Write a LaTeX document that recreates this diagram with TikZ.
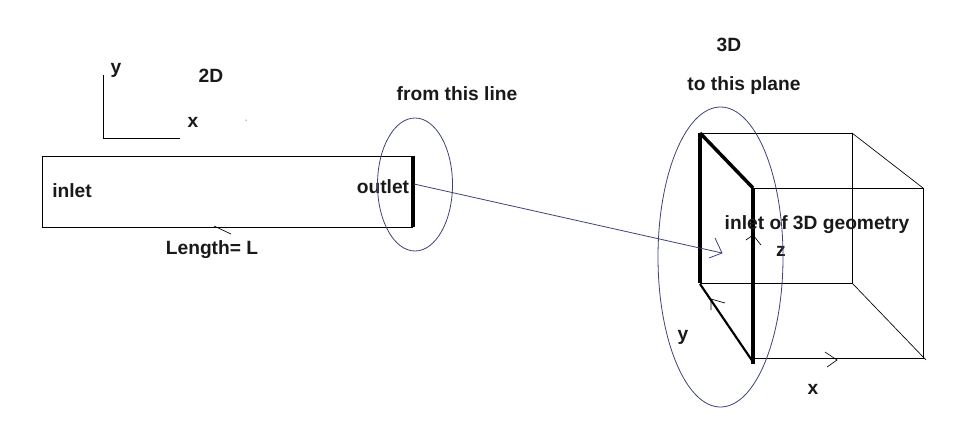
\documentclass[tikz,border=0pt]{standalone}
\usepackage{fontspec}
\setmainfont{Liberation Sans}
\definecolor{penblue}{RGB}{62,66,120}
\tikzset{
    lbl/.style={font=\fontsize{14.4}{16}\selectfont\bfseries, text=black!90, inner sep=0pt},
    edge3d/.style={draw=black, line width=0.6pt},
    heavy/.style={draw=black, line width=2.6pt},
    ring/.style={draw=penblue, line width=0.6pt},
    tick/.style={draw=black, line width=0.5pt}
}
\begin{document}
\begin{tikzpicture}[x=0.75pt,y=-0.75pt]
    \useasboundingbox (0,0) rectangle (963,436);

    % 2D side
    \coordinate (originA) at (103,138);
    \coordinate (axisY) at (103,75);
    \coordinate (axisX) at (180,138);
    \draw[edge3d] (axisY) -- (originA) -- (axisX);

    \coordinate (boxNW) at (42,156);
    \coordinate (boxNE) at (413,156);
    \coordinate (boxSE) at (413,227);
    \coordinate (boxSW) at (42,227);
    \draw[edge3d] (boxNE) -- (boxNW) -- (boxSW) -- (boxSE);
    \draw[heavy] (boxNE) -- (boxSE);
    \draw[tick] (214,226) -- (231,234);
    \fill (246,120) circle (0.5);

    \node[lbl] (labelY) at (116,70) {y};
    \node[lbl] (labelX) at (193,122) {x};
    \node[lbl] (label2D) at (211,76) {2D};
    \node[lbl] (labelInlet) at (72,191) {inlet};
    \node[lbl] (labelOutlet) at (383,187) {outlet};
    \node[lbl] (labelLength) at (212,250) {Length= L};
    \node[lbl] (labelLine) at (457,94) {from this line};

    % 3D side
    \coordinate (backNW) at (700,133);
    \coordinate (backNE) at (852,133);
    \coordinate (backSE) at (852,283);
    \coordinate (backSW) at (700,283);
    \coordinate (frontNW) at (753,188);
    \coordinate (frontNE) at (923,188);
    \coordinate (frontSE) at (923,358);
    \coordinate (frontSW) at (753,358);
    \draw[edge3d] (backNW) -- (backNE) -- (backSE) -- (backSW);
    \draw[edge3d] (frontNW) -- (frontNE) -- (frontSE) -- (frontSW);
    \draw[tick] (backNE) -- (frontNE);
    \draw[tick] (backSE) -- (926,360);
    \draw[heavy] (backSW) -- (backNW);
    \draw[heavy] (backNW) -- (frontNW);
    \draw[heavy] (frontNW) -- (753,364);
    \draw[black, line width=1.6pt] (700,284) -- (753,362);

    \draw[tick] (746,240) -- (753,235) -- (761,245);
    \draw[tick] (711,310) -- (711,299) -- (725,303);
    \draw[tick] (825,352) -- (837,360) -- (827,367);

    \node[lbl] (label3D) at (729,45) {3D};
    \node[lbl] (labelPlane) at (744,86) {to this plane};
    \node[lbl] (labelGeom) at (817,225) {inlet of 3D geometry};
    \node[lbl] (labelZ) at (781,251) {z};
    \node[lbl] (labelYb) at (683,337) {y};
    \node[lbl] (labelXb) at (813,389) {x};

    % ellipses and the link between them
    \draw[ring] (415,184.5) ellipse [x radius=37.5, y radius=66.5];
    \draw[ring] (720.5,257) ellipse [x radius=62.5, y radius=150];

    \coordinate (lineMid) at (414,184);
    \coordinate (planeMid) at (722,253);
    \draw[ring] (lineMid) -- (planeMid);
    \draw[ring] (715,238) -- (planeMid) -- (709,258);
\end{tikzpicture}
\end{document}
